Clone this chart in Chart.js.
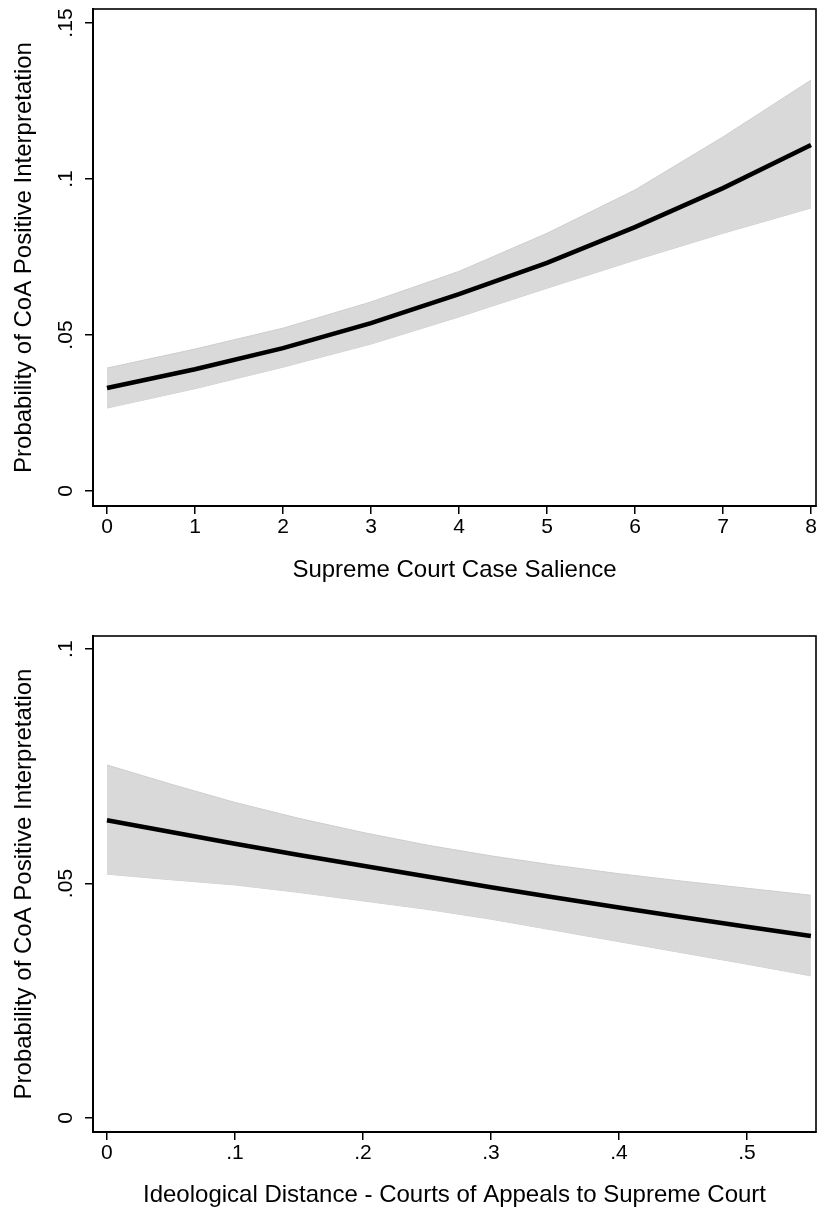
<!DOCTYPE html>
<html>
<head>
<meta charset="utf-8">
<title>Predicted probability of CoA positive interpretation</title>
<script src="https://cdn.jsdelivr.net/npm/chart.js@4"></script>
<style>
  html, body { margin: 0; padding: 0; background: #fff; }
  body { width: 817px; height: 1213px; position: relative; overflow: hidden; }
  .panel { position: absolute; left: 0; width: 817px; }
  #salienceWrap { top: 0; height: 600px; }
  #distanceWrap { top: 600px; height: 613px; }
</style>
</head>
<body>
<div class="panel" id="salienceWrap"><canvas id="salienceChart" width="817" height="600"></canvas></div>
<div class="panel" id="distanceWrap"><canvas id="distanceChart" width="817" height="613"></canvas></div>
<script>
// Panel 1: Supreme Court case salience
const salienceX = [0, 1, 2, 3, 4, 5, 6, 7, 8];
const salienceFit = [0.0330, 0.0390, 0.0458, 0.0538, 0.0631, 0.0731, 0.0846, 0.0971, 0.1109];
const salienceUpper = [0.0394, 0.0455, 0.0522, 0.0606, 0.0704, 0.0826, 0.0965, 0.1135, 0.1317];
const salienceLower = [0.0266, 0.0328, 0.0397, 0.0471, 0.0558, 0.0650, 0.0740, 0.0826, 0.0907];
const salienceTicksX = [0, 1, 2, 3, 4, 5, 6, 7, 8];
const salienceTickLabelsX = ['0', '1', '2', '3', '4', '5', '6', '7', '8'];
const salienceTicksY = [0, 0.05, 0.1, 0.15];
const salienceTickLabelsY = ['0', '.05', '.1', '.15'];

// Panel 2: ideological distance, CoA to Supreme Court
const distanceX = [0, 0.05, 0.1, 0.15, 0.2, 0.25, 0.3, 0.35, 0.4, 0.45, 0.5, 0.55];
const distanceFit = [0.0635, 0.0610, 0.0585, 0.0561, 0.0538, 0.0515, 0.0492, 0.0470, 0.0449, 0.0428, 0.0408, 0.0388];
const distanceUpper = [0.0753, 0.0712, 0.0673, 0.0639, 0.0609, 0.0582, 0.0559, 0.0539, 0.0521, 0.0505, 0.0490, 0.0475];
const distanceLower = [0.0520, 0.0508, 0.0497, 0.0481, 0.0463, 0.0445, 0.0424, 0.0400, 0.0376, 0.0352, 0.0328, 0.0303];
const distanceTicksX = [0, 0.1, 0.2, 0.3, 0.4, 0.5];
const distanceTickLabelsX = ['0', '.1', '.2', '.3', '.4', '.5'];
const distanceTicksY = [0, 0.05, 0.1];
const distanceTickLabelsY = ['0', '.05', '.1'];

const yTitle = 'Probability of CoA Positive Interpretation';

Chart.defaults.font.family = '"Liberation Sans", Arial, Helvetica, sans-serif';
Chart.defaults.color = '#000';

// box around the plot region
const framePlugin = {
  id: 'frame',
  afterDraw(chart) {
    const { ctx, chartArea: a } = chart;
    ctx.save();
    ctx.strokeStyle = '#000';
    ctx.lineWidth = 1.6;
    ctx.strokeRect(a.left, a.top, a.right - a.left, a.bottom - a.top);
    ctx.restore();
  }
};

function axisGrid() {
  return { display: true, drawOnChartArea: false, drawTicks: true, tickLength: 8, color: '#000', lineWidth: 1.5 };
}

// fixed axis size, and no extra room reserved for overhanging labels
function fixSize(prop, size) {
  return s => {
    s[prop] = size;
    s.paddingTop = 0; s.paddingBottom = 0; s.paddingLeft = 0; s.paddingRight = 0;
  };
}

function buildChart(id, cfg) {
  const pts = ys => cfg.x.map((x, i) => ({ x: x, y: ys[i] }));
  return new Chart(document.getElementById(id), {
    type: 'line',
    data: {
      datasets: [
        { data: pts(cfg.fit), borderColor: '#000', borderWidth: 4.6, pointRadius: 0, fill: false, tension: 0 },
        { data: pts(cfg.upper), borderColor: '#cdcdcd', borderWidth: 1, backgroundColor: '#d9d9d9', pointRadius: 0, fill: '+1', tension: 0 },
        { data: pts(cfg.lower), borderColor: '#cdcdcd', borderWidth: 1, pointRadius: 0, fill: false, tension: 0 }
      ]
    },
    options: {
      responsive: false,
      animation: false,
      devicePixelRatio: 1,
      layout: { padding: { top: cfg.padTop, right: 1, left: 0, bottom: 0 } },
      plugins: { legend: { display: false }, tooltip: { enabled: false } },
      scales: {
        x: {
          type: 'linear',
          min: cfg.xMin,
          max: cfg.xMax,
          afterFit: fixSize('height', cfg.xAxisHeight),
          afterBuildTicks: s => { s.ticks = cfg.xTicks.map(v => ({ value: v })); },
          grid: axisGrid(),
          border: { display: true, color: '#000', width: 2 },
          ticks: {
            autoSkip: false,
            maxRotation: 0,
            padding: 0.5,
            font: { size: 21 },
            callback: (v, i) => cfg.xTickLabels[i]
          },
          title: {
            display: true,
            text: cfg.xTitle,
            font: { size: 24 },
            padding: { top: 0, bottom: cfg.xTitlePad }
          }
        },
        y: {
          type: 'linear',
          min: cfg.yMin,
          max: cfg.yMax,
          afterFit: fixSize('width', 93),
          afterBuildTicks: s => { s.ticks = cfg.yTicks.map(v => ({ value: v })); },
          grid: axisGrid(),
          border: { display: true, color: '#000', width: 2 },
          ticks: {
            autoSkip: false,
            minRotation: 90,
            maxRotation: 90,
            crossAlign: 'center',
            padding: 4.4,
            font: { size: 21 },
            callback: (v, i) => cfg.yTickLabels[i]
          },
          title: {
            display: true,
            text: yTitle,
            font: { size: 24 },
            padding: { top: 9.6, bottom: 0 }
          }
        }
      }
    },
    plugins: [framePlugin]
  });
}

buildChart('salienceChart', {
  x: salienceX, fit: salienceFit, upper: salienceUpper, lower: salienceLower,
  xTicks: salienceTicksX, xTickLabels: salienceTickLabelsX,
  yTicks: salienceTicksY, yTickLabels: salienceTickLabelsY,
  xMin: -0.159, xMax: 8.057, yMin: -0.0048, yMax: 0.1545,
  padTop: 9, xAxisHeight: 94, xTitlePad: 15,
  xTitle: 'Supreme Court Case Salience'
});

buildChart('distanceChart', {
  x: distanceX, fit: distanceFit, upper: distanceUpper, lower: distanceLower,
  xTicks: distanceTicksX, xTickLabels: distanceTickLabelsX,
  yTicks: distanceTicksY, yTickLabels: distanceTickLabelsY,
  xMin: -0.0109, xMax: 0.554, yMin: -0.003, yMax: 0.1028,
  padTop: 36, xAxisHeight: 81, xTitlePad: 3,
  xTitle: 'Ideological Distance - Courts of Appeals to Supreme Court'
});
</script>
</body>
</html>
